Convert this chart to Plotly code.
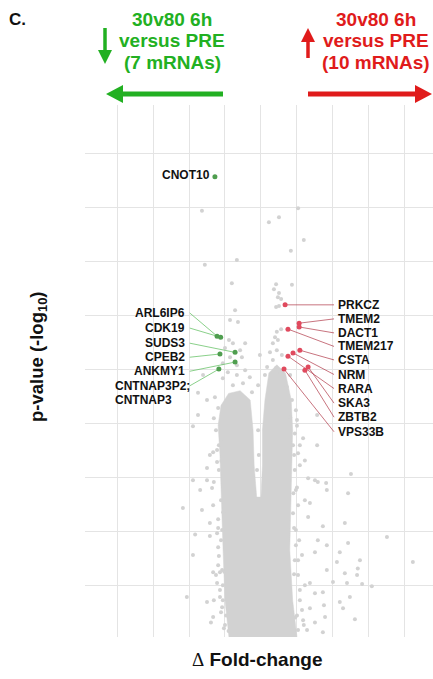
import plotly.graph_objects as go

# ---------------- DATA ----------------
# Dense core of the volcano cloud (outline of the solid grey region)
cloud_x = [-0.89, -1.00, -1.05, -1.08, -1.11, -1.14, -1.19, -1.11, -0.90, -0.58, -0.30, -0.22, -0.19, -0.12,
           0.00, 0.04, 0.04, 0.11, 0.22, 0.44, 0.68, 0.84, 0.88, 0.86, 0.83, 0.80, 0.88, 1.00]
cloud_y = [0.04, 0.72, 1.59, 2.20, 2.76, 3.41, 3.96, 4.33, 4.55, 4.60, 4.43, 3.87, 3.22, 2.63,
           2.63, 3.22, 3.87, 4.43, 4.93, 5.08, 4.93, 4.43, 3.87, 3.13, 2.39, 1.65, 0.72, 0.04]

# Individual (non-significant) grey points outside the dense core
grey_x = [-1.64, 0.22, 0.50, 1.03, 1.19, 0.83, -0.67, -1.56, -0.81, 0.42, 0.36, 0.50, 0.47, 0.56, 0.86,
          0.42, 0.50, 0.56, 0.44, 0.39, 0.47, 0.33, 0.44, 0.25, 0.58, 0.33, 0.17, 0.42, 0.11, 0.53, 0.81, 0.72,
          -0.72, -0.86, -0.64, -0.89, -0.78, -0.44, -1.00, -0.58, -0.86, -0.53, -1.06, -0.67, -0.44, -0.92,
          -1.06, -0.67, -0.31, -0.78, -0.50, -0.25, -1.28, -1.50, -1.75, -1.61, -0.08, -0.03,
          -1.75, -1.89, -1.42, -1.33, -1.50, -1.89, -1.50, -1.69, -1.36, -2.17, -1.64, -1.33, -1.42, -1.22,
          -1.31, -1.19, -1.83, -1.42, -1.22, -1.19, -1.89, -1.19, -1.33, -1.14, -1.22, -2.06, -1.50, -1.14,
          -1.33, -1.39, -1.08, -1.11, -1.17, -1.11, -1.08, -1.06, -1.00, -0.97,
          0.81, 0.94, 1.03, 1.22, 1.08, 1.31, 1.00, 1.50, 1.22, 0.89, 1.31, 1.56, 1.17, 1.56, 2.50, 1.58,
          1.81, 1.83, 2.42, 1.36, 2.33, 1.72, 3.50, 2.42, 1.58, 1.83, 2.19, 1.50, 2.11, 2.75, 4.22, 2.69,
          2.33, 2.67, 1.83, 2.00, 2.81, 3.08, 2.39, 1.36, 1.72, 1.50, 2.19, 2.47, 2.28, 1.75, 1.36, 2.61,
          1.78, 1.50, 1.72, 1.28, 1.17, 0.89, 0.94, 0.97, 1.03, 1.08, 1.14, 1.03, 0.86, 0.97,
          0.92, 0.90, 1.00, 0.95, -1.02, -1.05, -1.10, -0.90,
          -1.19, -1.11, -1.17, -1.08, -1.14, -1.06, -1.11, -1.03, -1.25, -1.31, -1.17, -1.22, -1.25, -1.31, -1.19,
          0.92, 0.97, 0.94, 1.03, 1.08, 1.00, 1.19, 1.06, 1.14, 1.22, 0.97, 1.03, 1.00, 0.92, 1.08,
          -0.08, -0.06, -0.11]
grey_y = [7.93, 7.72, 7.81, 7.98, 7.39, 7.19, 7.02, 6.93, 6.59, 6.57, 6.48, 6.41, 6.33, 6.30, 6.56,
          6.15, 6.17, 5.74, 5.69, 5.59, 5.54, 5.48, 5.35, 5.31, 5.26, 5.17, 5.04, 5.02, 4.89, 4.93, 4.89, 4.67,
          6.09, 5.91, 5.87, 5.54, 5.48, 5.48, 5.39, 5.35, 5.22, 5.22, 5.11, 5.07, 4.98, 4.94,
          4.83, 4.89, 4.85, 4.70, 4.74, 4.57, 4.48, 4.43, 4.56, 4.89, 4.70, 5.26,
          4.15, 3.94, 3.41, 3.46, 3.17, 2.94, 2.94, 2.76, 2.80, 2.43, 2.39, 2.48, 2.15, 3.50,
          2.91, 2.22, 1.94, 1.91, 1.96, 1.70, 1.56, 1.37, 1.24, 1.24, 1.04, 0.78, 0.69, 0.78,
          0.41, 0.31, 0.59, 3.69, 3.13, 2.57, 2.02, 1.00, 0.26, 0.44,
          4.11, 3.81, 3.44, 3.31, 3.22, 2.98, 2.81, 2.94, 2.57, 2.33, 2.26, 4.15, 3.72, 3.59, 3.06, 2.91,
          2.89, 2.76, 2.70, 2.52, 2.15, 2.09, 1.89, 1.78, 1.83, 1.74, 1.61, 1.61, 1.43, 1.46, 1.43, 1.31,
          1.22, 1.19, 1.28, 1.06, 1.02, 0.98, 1.04, 1.04, 0.87, 0.85, 0.69, 0.78, 0.57, 0.63, 0.57, 0.37,
          0.41, 0.31, 0.13, 0.17, 0.35, 3.59, 3.13, 2.02, 1.46, 0.91, 0.54, 0.17, 4.43, 4.24,
          1.20, 2.70, 3.95, 0.40, 1.25, 2.35, 3.30, 0.15,
          2.06, 1.83, 1.54, 1.28, 0.91, 0.72, 0.50, 0.20, 1.19, 0.72, 3.59, 3.28, 3.87, 4.09, 4.28,
          2.06, 1.74, 1.46, 1.19, 0.72, 0.44, 0.26, 1.83, 1.56, 1.00, 2.76, 2.48, 4.06, 3.41, 3.59,
          3.87, 3.41, 3.13]

# Significantly decreased mRNAs (green)
down_genes = ["CNOT10", "ARL6IP6", "CDK19", "SUDS3", "CPEB2", "ANKMY1", "CNTNAP3P2;"]
down_fc = [-1.28, -1.22, -1.12, -0.72, -1.14, -0.72, -1.17]
down_p = [8.56, 5.61, 5.59, 5.31, 5.28, 5.13, 5.00]

# Significantly increased mRNAs (red)
up_genes = ["PRKCZ", "TMEM2", "DACT1", "TMEM217", "CSTA", "NRM", "RARA", "SKA3", "ZBTB2", "VPS33B"]
up_fc = [0.67, 1.06, 1.06, 0.75, 1.08, 0.89, 0.75, 1.31, 1.22, 0.64]
up_p = [6.19, 5.85, 5.78, 5.74, 5.35, 5.30, 5.24, 5.04, 4.98, 5.00]

# ---------------- LABEL LAYOUT ----------------
left_label_x = -2.06
left_line_x = -1.98
left_label_y = [None, 6.04, 5.76, 5.48, 5.22, 4.96, 4.69]
right_label_x = 2.08
right_line_x = 2.03
right_label_y = [6.19, 5.93, 5.67, 5.42, 5.17, 4.90, 4.64, 4.37, 4.11, 3.84]

FONT = "Arial, 'Liberation Sans', sans-serif"
GREEN = "#22b022"
RED = "#e01b1b"
GREY = "#d2d2d2"

fig = go.Figure()

# dense core
fig.add_trace(go.Scatter(x=cloud_x + [cloud_x[0]], y=cloud_y + [cloud_y[0]], mode="lines",
                         fill="toself", fillcolor=GREY, line=dict(width=0.5, color=GREY),
                         hoverinfo="skip", showlegend=False))
# scattered grey points
fig.add_trace(go.Scatter(x=grey_x, y=grey_y, mode="markers",
                         marker=dict(size=4, color=GREY), showlegend=False))

# leader lines (green)
lx, ly = [], []
for i in range(1, len(down_genes)):
    lx += [left_line_x, down_fc[i], None]
    ly += [left_label_y[i], down_p[i], None]
fig.add_trace(go.Scatter(x=lx, y=ly, mode="lines", line=dict(color="#6cc46c", width=0.8),
                         hoverinfo="skip", showlegend=False))
# leader lines (red)
rx, ry = [], []
for i in range(len(up_genes)):
    rx += [up_fc[i], right_line_x, None]
    ry += [up_p[i], right_label_y[i], None]
fig.add_trace(go.Scatter(x=rx, y=ry, mode="lines", line=dict(color="#b03848", width=0.7),
                         hoverinfo="skip", showlegend=False))

fig.add_trace(go.Scatter(x=down_fc, y=down_p, mode="markers",
                         marker=dict(size=5, color="#4f9e4f"), showlegend=False))
fig.add_trace(go.Scatter(x=up_fc, y=up_p, mode="markers",
                         marker=dict(size=5, color="#e04a5e"), showlegend=False))

ann = []
lab_font = dict(family=FONT, size=12, color="#111111")
# CNOT10 label
ann.append(dict(x=down_fc[0] - 0.08, y=down_p[0] + 0.03, xref="x", yref="y", text="<b>CNOT10</b>",
                showarrow=False, xanchor="right", yanchor="middle", font=lab_font))
for i in range(1, len(down_genes) - 1):
    ann.append(dict(x=left_label_x, y=left_label_y[i], xref="x", yref="y", text="<b>%s</b>" % down_genes[i],
                    showarrow=False, xanchor="right", yanchor="middle", font=lab_font))
ann.append(dict(x=-4.12, y=left_label_y[-1], xref="x", yref="y", text="<b>CNTNAP3P2;</b>",
                showarrow=False, xanchor="left", yanchor="middle", font=lab_font))
ann.append(dict(x=-4.12, y=left_label_y[-1] - 0.26, xref="x", yref="y", text="<b>CNTNAP3</b>",
                showarrow=False, xanchor="left", yanchor="middle", font=lab_font))
for i in range(len(up_genes)):
    ann.append(dict(x=right_label_x, y=right_label_y[i], xref="x", yref="y", text="<b>%s</b>" % up_genes[i],
                    showarrow=False, xanchor="left", yanchor="middle", font=lab_font))

# header texts
def px2paper(px, py):
    return (px - 85) / 348.0, (637 - py) / 532.0

head_font_g = dict(family=FONT, size=19, color=GREEN)
head_font_r = dict(family=FONT, size=19, color=RED)
for txt, cy in [("30v80 6h", 19), ("versus PRE", 40), ("(7 mRNAs)", 62)]:
    xp, yp = px2paper(172, cy)
    ann.append(dict(x=xp, y=yp, xref="paper", yref="paper", text="<b>%s</b>" % txt, showarrow=False,
                    xanchor="center", yanchor="middle", font=head_font_g))
for txt, cy in [("30v80 6h", 19), ("versus PRE", 40), ("(10 mRNAs)", 62)]:
    xp, yp = px2paper(376, cy)
    ann.append(dict(x=xp, y=yp, xref="paper", yref="paper", text="<b>%s</b>" % txt, showarrow=False,
                    xanchor="center", yanchor="middle", font=head_font_r))
xp, yp = px2paper(7, 19)
ann.append(dict(x=xp, y=yp, xref="paper", yref="paper", text="<b>C.</b>", showarrow=False,
                xanchor="left", yanchor="middle", font=dict(family=FONT, size=17, color="#111111")))

# axis titles
xp, yp = px2paper(38, 357)
ann.append(dict(x=xp, y=yp, xref="paper", yref="paper", text="<b>p-value (-log<sub>10</sub>)</b>",
                showarrow=False, textangle=-90, xanchor="center", yanchor="middle",
                font=dict(family=FONT, size=18.5, color="#111111")))
xp, yp = px2paper(257, 659)
ann.append(dict(x=xp, y=yp, xref="paper", yref="paper",
                text="<span style=\"font-family:'Liberation Serif'\">Δ</span> <b>Fold-change</b>",
                showarrow=False, xanchor="center", yanchor="middle",
                font=dict(family=FONT, size=19, color="#111111")))

# arrows as shapes
shapes = []
def add_hline_arrow(x_tail, x_tip, y, color, head_len=17, half=9, w=5):
    xt, yy = px2paper(x_tail, y)
    dirn = 1 if x_tip > x_tail else -1
    xb, _ = px2paper(x_tip - dirn * head_len, y)
    xtip, _ = px2paper(x_tip, y)
    shapes.append(dict(type="line", xref="paper", yref="paper", x0=xt, y0=yy, x1=xb, y1=yy,
                       line=dict(color=color, width=w)))
    _, ytop = px2paper(0, y - half)
    _, ybot = px2paper(0, y + half)
    shapes.append(dict(type="path", xref="paper", yref="paper",
                       path="M %f %f L %f %f L %f %f Z" % (xb, ytop, xtip, yy, xb, ybot),
                       fillcolor=color, line=dict(color=color, width=0)))

def add_vline_arrow(x, y_tail, y_tip, color, head_len=14, half=7, w=3.5):
    xx, yt = px2paper(x, y_tail)
    dirn = 1 if y_tip > y_tail else -1
    _, yb = px2paper(x, y_tip - dirn * head_len)
    _, ytip = px2paper(x, y_tip)
    shapes.append(dict(type="line", xref="paper", yref="paper", x0=xx, y0=yt, x1=xx, y1=yb,
                       line=dict(color=color, width=w)))
    xl, _ = px2paper(x - half, 0)
    xr, _ = px2paper(x + half, 0)
    shapes.append(dict(type="path", xref="paper", yref="paper",
                       path="M %f %f L %f %f L %f %f Z" % (xl, yb, xx, ytip, xr, yb),
                       fillcolor=color, line=dict(color=color, width=0)))

add_hline_arrow(223, 106, 94, GREEN)
add_hline_arrow(308, 432, 94, RED)
add_vline_arrow(105, 28, 64, GREEN)
add_vline_arrow(308, 58, 28, RED)

fig.update_layout(
    width=433, height=679, autosize=False,
    margin=dict(l=85, r=0, t=105, b=42),
    paper_bgcolor="white", plot_bgcolor="white",
    xaxis=dict(range=[-4.89, 4.78], tick0=0, dtick=1, showticklabels=False, ticks="",
               showgrid=True, gridcolor="#e4e4e4", gridwidth=1, zeroline=False, showline=False),
    yaxis=dict(range=[0.04, 9.89], tick0=0, dtick=1, showticklabels=False, ticks="",
               showgrid=True, gridcolor="#e4e4e4", gridwidth=1, zeroline=False, showline=False),
    annotations=ann, shapes=shapes, showlegend=False,
)

fig.write_html("out.html")
